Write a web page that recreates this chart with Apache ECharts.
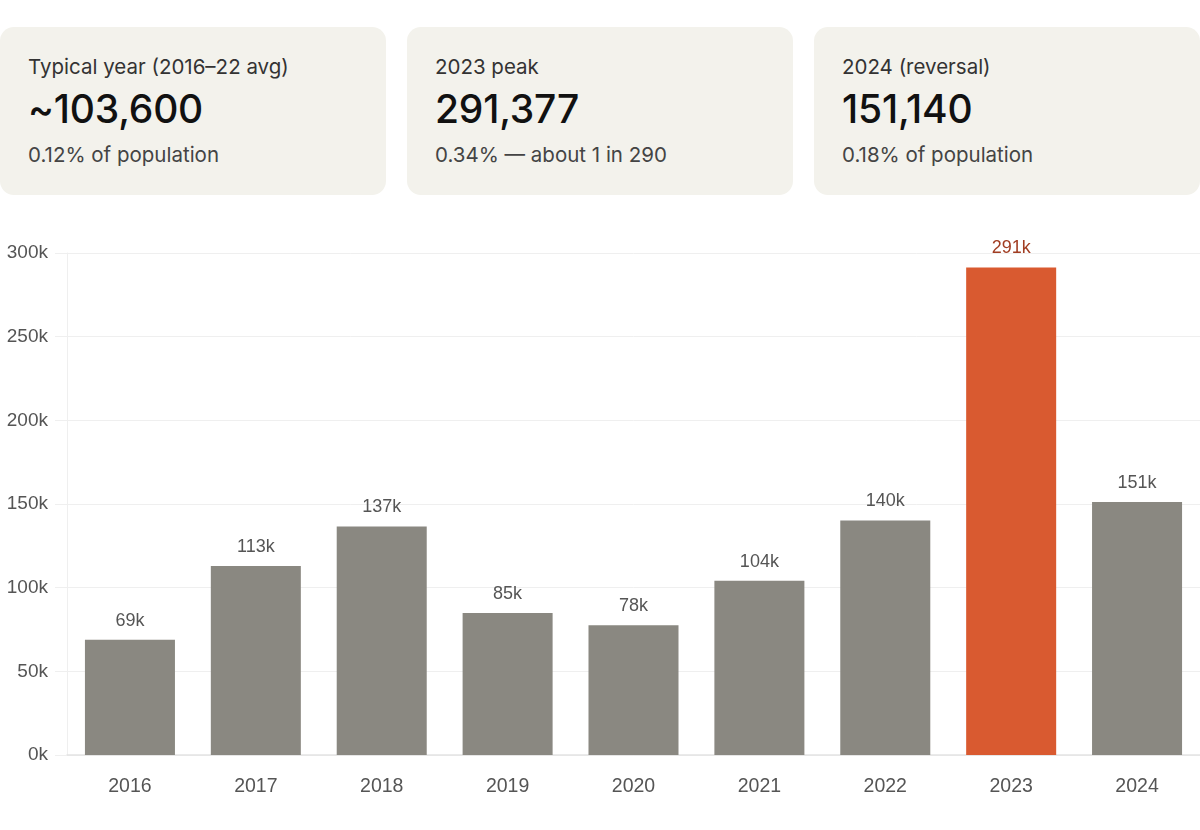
<!DOCTYPE html>
<html>
<head>
<meta charset="utf-8">
<script src="https://cdn.jsdelivr.net/npm/echarts@6/dist/echarts.min.js"></script>
<style>
  html, body { margin: 0; padding: 0; background: #fff; }
  body { width: 1200px; height: 830px; position: relative; font-family: Inter, "Liberation Sans", Arial, sans-serif; }
  .cards { position: absolute; left: 0; top: 27px; width: 1200px; display: flex; gap: 21px; }
  .card { flex: 1; height: 168px; background: #f3f2ec; border-radius: 14px; box-sizing: border-box; padding: 27px 28px 0 28px; }
  .card .lbl { font-size: 20.5px; color: #333; line-height: 26px; }
  .card .big { font-size: 39px; font-weight: 500; color: #111; line-height: 46px; margin-top: 6px; letter-spacing: -0.2px; }
  .card .sub { font-size: 20.5px; color: #444; line-height: 26px; margin-top: 10px; }
  #chart { position: absolute; left: 0; top: 230px; width: 1200px; height: 600px; }
</style>
</head>
<body>
<div class="cards" id="cards"></div>
<div id="chart"></div>
<script>
// Summary cards
var cardTitles = ['Typical year (2016\u201322 avg)', '2023 peak', '2024 (reversal)'];
var cardValues = ['~103,600', '291,377', '151,140'];
var cardNotes = ['0.12% of population', '0.34% \u2014 about 1 in 290', '0.18% of population'];

// Chart data
var years = ['2016', '2017', '2018', '2019', '2020', '2021', '2022', '2023', '2024'];
var counts = [68900, 113000, 136600, 84800, 77600, 104100, 140200, 291377, 151140];
var highlightYear = '2023';

var cardsEl = document.getElementById('cards');
cardTitles.forEach(function (t, i) {
    var c = document.createElement('div');
    c.className = 'card';
    c.innerHTML = '<div class="lbl">' + t + '</div><div class="big">' + cardValues[i] +
        '</div><div class="sub">' + cardNotes[i] + '</div>';
    cardsEl.appendChild(c);
});

var chart = echarts.init(document.getElementById('chart'));

var barData = counts.map(function (v, i) {
    var hot = years[i] === highlightYear;
    return {
        value: v,
        itemStyle: { color: hot ? '#d95a30' : '#8a8881' },
        label: { color: hot ? '#a13d22' : '#555' }
    };
});

chart.setOption({
    animation: false,
    textStyle: { fontFamily: '"Liberation Sans", Arial, sans-serif' },
    grid: { left: 67, right: 0, top: 23, bottom: 75 },
    xAxis: {
        type: 'category',
        data: years,
        axisLine: { lineStyle: { color: '#e3e3e3', width: 1.5 } },
        axisTick: { show: false },
        axisLabel: { color: '#555', fontSize: 19.5, margin: 22 }
    },
    yAxis: {
        type: 'value',
        min: 0,
        max: 300000,
        interval: 50000,
        axisLine: { show: true, lineStyle: { color: '#efefef' } },
        axisTick: { show: true, length: 12, lineStyle: { color: '#efefef' } },
        splitLine: { lineStyle: { color: '#efefef' } },
        axisLabel: {
            color: '#555',
            fontSize: 19,
            margin: 19,
            formatter: function (v) { return (v / 1000) + 'k'; }
        }
    },
    series: [{
        type: 'bar',
        data: barData,
        barCategoryGap: '28.5%',
        label: {
            show: true,
            position: 'top',
            distance: 10,
            fontSize: 18,
            formatter: function (p) { return Math.round(p.value / 1000) + 'k'; }
        }
    }]
});
</script>
</body>
</html>
